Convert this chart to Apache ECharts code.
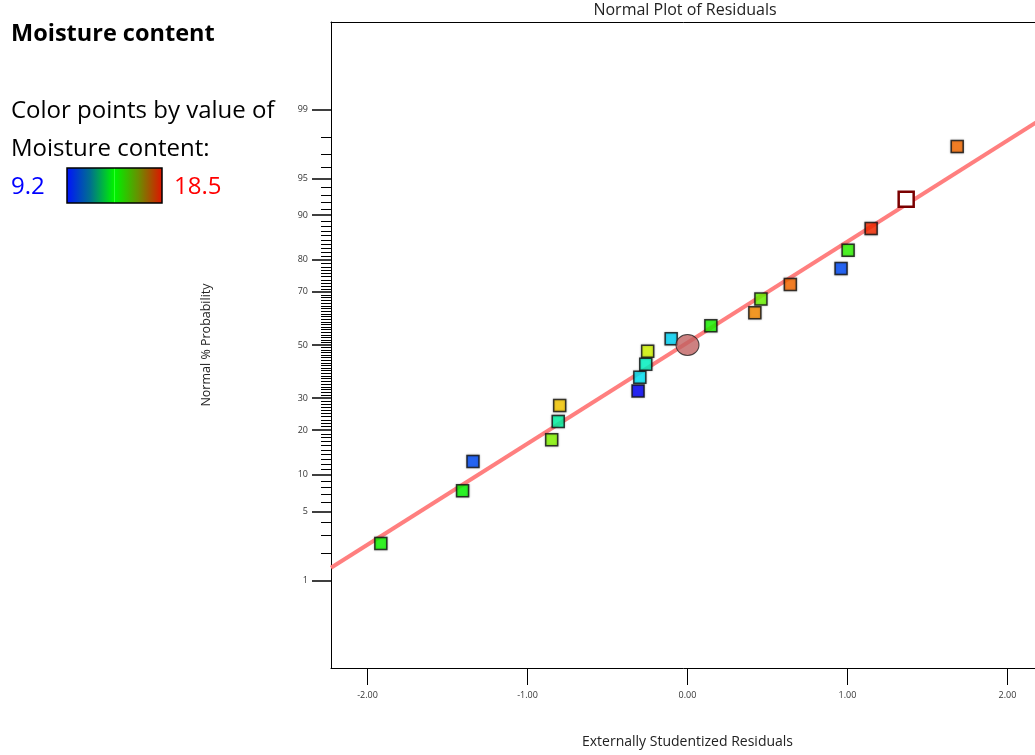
<!DOCTYPE html>
<html>
<head>
<meta charset="utf-8">
<script src="https://cdn.jsdelivr.net/npm/echarts@6/dist/echarts.min.js"></script>
<style>
html,body{margin:0;padding:0;background:#fff;}
#chart{width:1035px;height:755px;}
</style>
</head>
<body>
<div id="chart"></div>
<script>
// ---- data ----
var residuals = [-1.917, -1.406, -1.341, -0.849, -0.808, -0.799, -0.309, -0.298, -0.261, -0.249,
                 -0.102, 0.146, 0.421, 0.459, 0.643, 0.960, 1.004, 1.148, 1.367, 1.686];
var probabilities = [2.5, 7.5, 12.5, 17.5, 22.5, 27.5, 32.5, 37.5, 42.5, 47.5,
                     52.5, 57.5, 62.5, 67.5, 72.5, 77.5, 82.5, 87.5, 92.5, 97.5];
var moisture = [14.0, 13.9, 9.9, 15.1, 12.3, 16.6, 9.2, 11.35, 12.0, 15.85,
                11.2, 14.1, 17.2, 14.85, 17.5, 9.9, 14.3, 18.1, 18.5, 17.5];
var highlightIndex = 18;
var centerPoint = [0.0, 50];
var fitLineResiduals = [-2.2285, 2.2285];
var fitLineProbits = [-2.200, 2.248];
var moistureMin = 9.2, moistureMax = 18.5;
var xMin = -2.2285, xMax = 2.2285;
var xTickValues = [-2, -1, 0, 1, 2];
var probMajorTicks = [1, 5, 10, 20, 30, 50, 70, 80, 90, 95, 99];
var probMinorTicks = [2, 3, 4, 6, 7, 8, 9, 11, 12, 13, 14, 15, 16, 17, 18, 19,
  21, 22, 23, 24, 25, 26, 27, 28, 29, 31, 32, 33, 34, 35, 36, 37, 38, 39, 40, 41, 42, 43, 44, 45, 46, 47, 48, 49,
  51, 52, 53, 54, 55, 56, 57, 58, 59, 60, 61, 62, 63, 64, 65, 66, 67, 68, 69,
  71, 72, 73, 74, 75, 76, 77, 78, 79, 81, 82, 83, 84, 85, 86, 87, 88, 89, 91, 92, 93, 94, 96, 97, 98];

// inverse normal CDF (Acklam)
function probit(p) {
  var a = [-3.969683028665376e+01, 2.209460984245205e+02, -2.759285104469687e+02, 1.383577518672690e+02, -3.066479806614716e+01, 2.506628277459239e+00];
  var b = [-5.447609879822406e+01, 1.615858368580409e+02, -1.556989798598866e+02, 6.680131188771972e+01, -1.328068155288572e+01];
  var c = [-7.784894002430293e-03, -3.223964580411365e-01, -2.400758277161838e+00, -2.549732539343734e+00, 4.374664141464968e+00, 2.938163982698783e+00];
  var d = [7.784695709041462e-03, 3.224671290700398e-01, 2.445134137142996e+00, 3.754408661907416e+00];
  var pl = 0.02425, q, r;
  if (p < pl) {
    q = Math.sqrt(-2 * Math.log(p));
    return (((((c[0]*q+c[1])*q+c[2])*q+c[3])*q+c[4])*q+c[5]) / ((((d[0]*q+d[1])*q+d[2])*q+d[3])*q+1);
  } else if (p <= 1 - pl) {
    q = p - 0.5; r = q*q;
    return (((((a[0]*r+a[1])*r+a[2])*r+a[3])*r+a[4])*r+a[5])*q / (((((b[0]*r+b[1])*r+b[2])*r+b[3])*r+b[4])*r+1);
  } else {
    q = Math.sqrt(-2 * Math.log(1 - p));
    return -(((((c[0]*q+c[1])*q+c[2])*q+c[3])*q+c[4])*q+c[5]) / ((((d[0]*q+d[1])*q+d[2])*q+d[3])*q+1);
  }
}

var mainData = [], hiData = [];
for (var i = 0; i < residuals.length; i++) {
  var pt = [residuals[i], probit(probabilities[i] / 100), moisture[i]];
  if (i === highlightIndex) hiData.push(pt); else mainData.push(pt);
}
var lineData = [[fitLineResiduals[0], fitLineProbits[0]], [fitLineResiduals[1], fitLineProbits[1]]];
var centerData = [[centerPoint[0], probit(centerPoint[1] / 100)]];
var majorVals = probMajorTicks.map(function (p) { return probit(p / 100); });
var minorVals = probMinorTicks.map(function (p) { return probit(p / 100); });

var chart = echarts.init(document.getElementById('chart'), null, {renderer: 'canvas'});
var FONT = "'Open Sans', 'Noto Sans', sans-serif";
var yMin = -3.19, yMax = 3.19;

var option = {
  animation: false,
  backgroundColor: '#ffffff',
  textStyle: {fontFamily: FONT},
  grid: {left: 331, top: 22, width: 713, height: 646, show: false, outerBoundsMode: 'none', containLabel: false},
  xAxis: [{
    type: 'value', min: xMin, max: xMax, position: 'bottom',
    splitLine: {show: false},
    axisLine: {show: true, onZero: false, lineStyle: {color: '#000', width: 1}},
    axisTick: {show: true, customValues: xTickValues, length: 17, inside: false, lineStyle: {color: '#000', width: 1}},
    axisLabel: {customValues: xTickValues, margin: 23, fontSize: 9, color: '#333', fontFamily: FONT,
      formatter: function (v) { return v.toFixed(2); }},
    name: 'Externally Studentized Residuals', nameLocation: 'middle', nameGap: 67,
    nameTextStyle: {fontSize: 14, color: '#222', fontFamily: FONT}
  }, {
    type: 'value', min: xMin, max: xMax, position: 'top',
    splitLine: {show: false},
    axisLine: {show: true, onZero: false, lineStyle: {color: '#000', width: 1}},
    axisTick: {show: false}, axisLabel: {show: false}
  }],
  yAxis: [{
    type: 'value', min: yMin, max: yMax, position: 'left',
    splitLine: {show: false},
    axisLine: {show: true, onZero: false, lineStyle: {color: '#000', width: 1}},
    axisTick: {show: true, customValues: minorVals, length: 10, lineStyle: {color: '#000', width: 1}},
    axisLabel: {show: false},
    name: 'Normal % Probability', nameLocation: 'middle', nameGap: 118, nameRotate: 90,
    nameTextStyle: {fontSize: 12.5, color: '#222', fontFamily: FONT}
  }, {
    type: 'value', min: yMin, max: yMax, position: 'left', offset: 0,
    splitLine: {show: false},
    axisLine: {show: false, onZero: false},
    axisTick: {show: true, customValues: majorVals, length: 19, lineStyle: {color: '#000', width: 1.5}},
    axisLabel: {customValues: majorVals, margin: 23, fontSize: 9, color: '#333', fontFamily: FONT,
      formatter: function (v) {
        for (var k = 0; k < majorVals.length; k++) if (Math.abs(majorVals[k] - v) < 1e-6) return String(probMajorTicks[k]);
        return '';
      }}
  }],
  visualMap: {
    show: false, type: 'continuous', seriesIndex: 1, dimension: 2,
    min: moistureMin, max: moistureMax,
    inRange: {color: ['#0000ff', '#00ffff', '#00ff00', '#ffff00', '#ff0000']}
  },
  series: [{
    type: 'line', data: lineData, symbol: 'none', silent: true, z: 1,
    lineStyle: {color: '#ff7f7f', width: 4}
  }, {
    type: 'scatter', data: mainData, symbol: 'rect', symbolSize: 12, z: 3,
    itemStyle: {borderColor: '#111', borderWidth: 1.5, shadowColor: 'rgba(0,0,0,0.35)', shadowBlur: 2}
  }, {
    type: 'scatter', data: hiData, symbol: 'rect', symbolSize: 15, z: 4,
    itemStyle: {color: '#ffffff', opacity: 1, borderColor: '#7a0000', borderWidth: 2.5}
  }, {
    type: 'scatter', data: centerData, symbol: 'circle', symbolSize: [23, 21], z: 5,
    itemStyle: {color: '#c06262', borderColor: '#222', borderWidth: 1}
  }],
  graphic: [
    {type: 'text', x: 685, y: 10, style: {text: 'Normal Plot of Residuals', fill: '#222', font: "16px " + FONT, textAlign: 'center', textVerticalAlign: 'middle'}},
    {type: 'text', x: 11, y: 34, style: {text: 'Moisture content', fill: '#000', font: "bold 23.5px " + FONT, textVerticalAlign: 'middle'}},
    {type: 'text', x: 11, y: 111, style: {text: 'Color points by value of', fill: '#000', font: "24px " + FONT, textVerticalAlign: 'middle'}},
    {type: 'text', x: 11, y: 149, style: {text: 'Moisture content:', fill: '#000', font: "24px " + FONT, textVerticalAlign: 'middle'}},
    {type: 'text', x: 11, y: 187, style: {text: String(moistureMin), fill: '#0000ff', font: "24px " + FONT, textVerticalAlign: 'middle'}},
    {type: 'text', x: 174, y: 187, style: {text: String(moistureMax), fill: '#ff0000', font: "24px " + FONT, textVerticalAlign: 'middle'}},
    {type: 'rect', shape: {x: 67, y: 168, width: 95, height: 35},
      style: {
        fill: new echarts.graphic.LinearGradient(0, 0, 1, 0, [
          {offset: 0, color: '#0010ff'},
          {offset: 0.25, color: '#00708e'},
          {offset: 0.49, color: '#00f000'},
          {offset: 0.5, color: '#30ff30'},
          {offset: 0.51, color: '#00f000'},
          {offset: 0.75, color: '#6a8e00'},
          {offset: 1, color: '#e21000'}
        ]),
        stroke: '#000', lineWidth: 1.5
      }}
  ]
};
chart.setOption(option);
</script>
</body>
</html>
